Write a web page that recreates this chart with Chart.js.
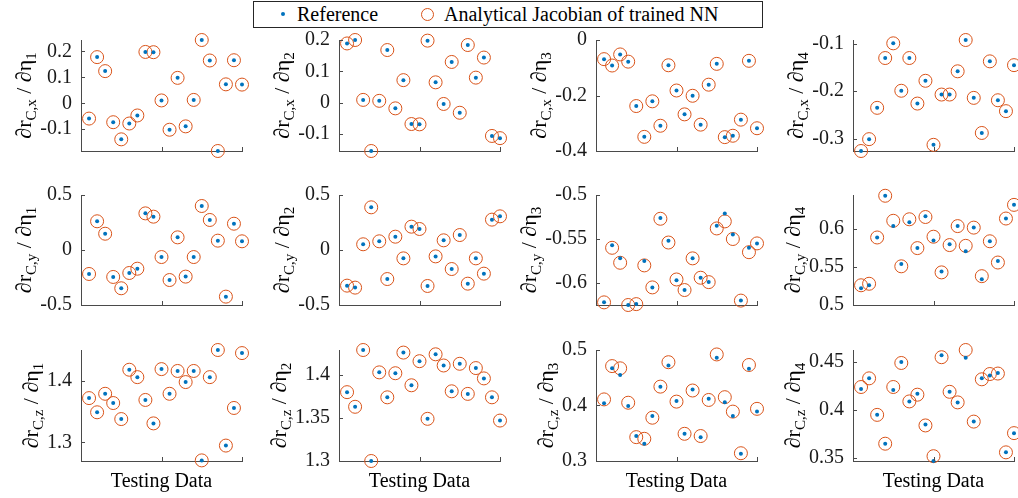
<!DOCTYPE html>
<html>
<head>
<meta charset="utf-8">
<script src="https://cdn.jsdelivr.net/npm/chart.js@4.4.1/dist/chart.umd.min.js"></script>
<style>
  html, body { margin: 0; padding: 0; background: #fff; }
  body { width: 1018px; height: 498px; overflow: hidden; position: relative; font-family: "Liberation Serif", "Times New Roman", serif; }
  canvas.panel { position: absolute; }
  #legend { position: absolute; left: 253px; top: 1px; width: 510px; height: 27px; border: 1px solid #262626; box-sizing: border-box; background: #fff; font-size: 20px; color: #000; }
  #legend .lbl { position: absolute; top: 0; line-height: 25px; white-space: nowrap; }
  #legend .dot { position: absolute; width: 4px; height: 4px; border-radius: 50%; background: #0072BD; }
  #legend .ring { position: absolute; width: 11px; height: 11px; border-radius: 50%; border: 1px solid #D95319; }
</style>
</head>
<body>
<div id="legend">
  <span class="dot" style="left:27px;top:10px"></span>
  <span class="lbl" style="left:43px">Reference</span>
  <span class="ring" style="left:167px;top:6px"></span>
  <span class="lbl" style="left:190px">Analytical Jacobian of trained NN</span>
</div>
<script>
// Test samples (x axis)
const samples = [1, 2, 3, 4, 5, 6, 7, 8, 9, 10, 11, 12, 13, 14, 15, 16, 17, 18, 19, 20];
const xTicks = [0, 10, 20];

// dr_C,x / d eta_i
const rx1Ref = [-0.059, 0.178, 0.124, -0.073, -0.139, -0.078, -0.047, 0.198, 0.197, 0.011, -0.102, 0.098, -0.089, 0.013, 0.244, 0.165, -0.184, 0.073, 0.166, 0.072];
const rx1Nn  = [-0.059, 0.178, 0.124, -0.073, -0.139, -0.078, -0.047, 0.198, 0.197, 0.011, -0.102, 0.098, -0.089, 0.013, 0.244, 0.165, -0.184, 0.073, 0.166, 0.072];
const rx2Ref = [0.189, 0.200, 0.009, -0.154, 0.006, 0.168, -0.018, 0.072, -0.068, -0.069, 0.198, 0.065, -0.004, 0.130, -0.032, 0.184, 0.080, 0.144, -0.106, -0.113];
const rx2Nn  = [0.189, 0.200, 0.009, -0.154, 0.006, 0.168, -0.018, 0.072, -0.068, -0.069, 0.198, 0.065, -0.004, 0.130, -0.032, 0.184, 0.080, 0.144, -0.106, -0.113];
const rx3Ref = [-0.069, -0.092, -0.052, -0.078, -0.238, -0.349, -0.221, -0.309, -0.091, -0.182, -0.268, -0.201, -0.305, -0.161, -0.086, -0.350, -0.345, -0.287, -0.075, -0.318];
const rx3Nn  = [-0.069, -0.092, -0.052, -0.078, -0.238, -0.349, -0.221, -0.309, -0.091, -0.182, -0.268, -0.201, -0.305, -0.161, -0.086, -0.350, -0.345, -0.287, -0.075, -0.318];
const rx4Ref = [-0.326, -0.301, -0.235, -0.130, -0.099, -0.199, -0.130, -0.226, -0.178, -0.313, -0.207, -0.207, -0.158, -0.092, -0.214, -0.288, -0.137, -0.219, -0.242, -0.145];
const rx4Nn  = [-0.326, -0.301, -0.235, -0.130, -0.099, -0.199, -0.130, -0.226, -0.178, -0.313, -0.207, -0.207, -0.158, -0.092, -0.214, -0.288, -0.137, -0.219, -0.242, -0.145];

// dr_C,y / d eta_i
const ry1Ref = [-0.218, 0.261, 0.148, -0.245, -0.348, -0.209, -0.170, 0.333, 0.303, -0.064, -0.273, 0.115, -0.242, -0.064, 0.400, 0.273, 0.085, -0.424, 0.239, 0.079];
const ry1Nn  = [-0.218, 0.261, 0.148, -0.245, -0.348, -0.209, -0.170, 0.333, 0.303, -0.064, -0.273, 0.115, -0.242, -0.064, 0.400, 0.273, 0.085, -0.424, 0.239, 0.079];
const ry2Ref = [-0.324, -0.342, 0.052, 0.388, 0.079, -0.264, 0.121, -0.076, 0.212, 0.191, -0.327, -0.058, 0.088, -0.173, 0.136, -0.306, -0.076, -0.215, 0.276, 0.306];
const ry2Nn  = [-0.324, -0.342, 0.052, 0.388, 0.079, -0.264, 0.121, -0.076, 0.212, 0.191, -0.327, -0.058, 0.088, -0.173, 0.136, -0.306, -0.076, -0.215, 0.276, 0.306];
const ry3Ref = [-0.622, -0.557, -0.572, -0.625, -0.624, -0.575, -0.605, -0.526, -0.552, -0.597, -0.608, -0.572, -0.594, -0.599, -0.535, -0.521, -0.545, -0.620, -0.560, -0.555];
const ry3Nn  = [-0.622, -0.560, -0.577, -0.625, -0.624, -0.580, -0.605, -0.527, -0.554, -0.596, -0.608, -0.572, -0.594, -0.599, -0.538, -0.530, -0.550, -0.620, -0.565, -0.555];
const ry4Ref = [0.522, 0.526, 0.589, 0.644, 0.604, 0.554, 0.609, 0.575, 0.617, 0.585, 0.544, 0.580, 0.604, 0.571, 0.602, 0.534, 0.584, 0.558, 0.614, 0.632];
const ry4Nn  = [0.526, 0.528, 0.589, 0.644, 0.611, 0.551, 0.613, 0.575, 0.616, 0.590, 0.543, 0.579, 0.604, 0.578, 0.602, 0.538, 0.584, 0.556, 0.614, 0.632];

// dr_C,z / d eta_i
const rz1Ref = [1.372, 1.349, 1.379, 1.364, 1.338, 1.418, 1.406, 1.369, 1.331, 1.419, 1.379, 1.416, 1.398, 1.416, 1.271, 1.406, 1.450, 1.295, 1.356, 1.445];
const rz1Nn  = [1.372, 1.349, 1.379, 1.364, 1.338, 1.418, 1.406, 1.369, 1.331, 1.419, 1.379, 1.416, 1.398, 1.416, 1.271, 1.406, 1.450, 1.295, 1.356, 1.445];
const rz2Ref = [1.380, 1.363, 1.429, 1.300, 1.403, 1.374, 1.402, 1.426, 1.388, 1.416, 1.349, 1.424, 1.411, 1.381, 1.413, 1.378, 1.408, 1.396, 1.374, 1.347];
const rz2Nn  = [1.380, 1.363, 1.429, 1.300, 1.403, 1.374, 1.402, 1.426, 1.388, 1.416, 1.349, 1.424, 1.411, 1.381, 1.413, 1.378, 1.408, 1.396, 1.374, 1.347];
const rz3Ref = [0.404, 0.467, 0.455, 0.399, 0.345, 0.331, 0.381, 0.434, 0.472, 0.408, 0.349, 0.429, 0.343, 0.412, 0.486, 0.406, 0.381, 0.313, 0.466, 0.389];
const rz3Nn  = [0.411, 0.471, 0.467, 0.405, 0.343, 0.340, 0.378, 0.434, 0.478, 0.407, 0.349, 0.427, 0.345, 0.410, 0.492, 0.415, 0.389, 0.314, 0.473, 0.394];
const rz4Ref = [0.422, 0.433, 0.395, 0.365, 0.421, 0.450, 0.409, 0.417, 0.385, 0.347, 0.457, 0.419, 0.408, 0.4545, 0.388, 0.433, 0.436, 0.4385, 0.356, 0.376];
const rz4Nn  = [0.424, 0.433, 0.395, 0.365, 0.424, 0.449, 0.409, 0.416, 0.384, 0.352, 0.455, 0.419, 0.408, 0.4625, 0.388, 0.432, 0.4375, 0.438, 0.356, 0.376];

// y-axis limits and tick labels, row by row
const yLimits = [
  [-0.184, 0.244], [-0.154, 0.200], [-0.400, 0.000], [-0.326, -0.092],
  [-0.500, 0.500], [-0.500, 0.500], [-0.625, -0.500], [0.500, 0.645],
  [1.270, 1.450],  [1.300, 1.429],  [0.300, 0.500],   [0.347, 0.4625]
];
const yTickValues = [
  [-0.1, 0, 0.1, 0.2], [-0.1, 0, 0.1, 0.2], [-0.4, -0.2, 0], [-0.3, -0.2, -0.1],
  [-0.5, 0, 0.5], [-0.5, 0, 0.5], [-0.6, -0.55, -0.5], [0.5, 0.55, 0.6],
  [1.3, 1.4], [1.3, 1.35, 1.4], [0.3, 0.4, 0.5], [0.35, 0.4, 0.45]
];
const components = ['C,x', 'C,y', 'C,z'];
const etaIndex = ['1', '2', '3', '4'];
const xTitle = 'Testing Data';
const legendNames = ['Reference', 'Analytical Jacobian of trained NN'];

const refSeries = [rx1Ref, rx2Ref, rx3Ref, rx4Ref, ry1Ref, ry2Ref, ry3Ref, ry4Ref, rz1Ref, rz2Ref, rz3Ref, rz4Ref];
const nnSeries  = [rx1Nn, rx2Nn, rx3Nn, rx4Nn, ry1Nn, ry2Nn, ry3Nn, ry4Nn, rz1Nn, rz2Nn, rz3Nn, rz4Nn];

// Layout of the subplot grid (plot-area edges in page pixels)
const colLeft = [81, 339, 596, 853];
const plotWidth = 161;
const rowTop = [40, 195, 350];
const rowBottom = [151, 305, 461];
const axisBand = 81;     // room left of each plot area for tick labels and title
const padTop = 24;

const BLUE = '#0072BD';
const ORANGE = '#D95319';
const AXIS = '#4a4a4a';
const FONT = '"Liberation Serif", "Times New Roman", serif';

function fmt(v) { return String(+v.toFixed(3)); }

// inward tick marks, y-label with subscripts and x-label
const axisDecor = {
  id: 'axisDecor',
  afterDraw(chart, args, o) {
    const { ctx, chartArea: a, scales } = chart;
    const x = scales.x, y = scales.y;
    ctx.save();
    ctx.strokeStyle = AXIS;
    ctx.lineWidth = 1;
    ctx.beginPath();
    y.ticks.forEach(t => {
      const py = Math.round(y.getPixelForValue(t.value)) + 0.5;
      ctx.moveTo(a.left, py); ctx.lineTo(a.left + 4, py);
    });
    xTicks.forEach(v => {
      const px = Math.round(x.getPixelForValue(v)) + 0.5;
      ctx.moveTo(px, a.bottom); ctx.lineTo(px, a.bottom - 4);
    });
    ctx.stroke();

    // widest tick label decides where the y title sits
    ctx.font = '20px ' + FONT;
    let maxW = 0;
    y.ticks.forEach(t => { maxW = Math.max(maxW, ctx.measureText(fmt(t.value)).width); });
    const cx = a.left - 10 - maxW - 14;
    const cy = (a.top + a.bottom) / 2;
    const parts = [
      { t: '\u2202r', sub: false },
      { t: o.comp, sub: true },
      { t: ' / \u2202\u03B7', sub: false },
      { t: o.eta, sub: true }
    ];
    let total = 0;
    parts.forEach(p => {
      ctx.font = (p.sub ? '15px ' : '22px ') + FONT;
      p.w = ctx.measureText(p.t).width;
      total += p.w;
    });
    ctx.translate(cx, cy);
    ctx.rotate(-Math.PI / 2);
    ctx.fillStyle = '#000';
    ctx.textBaseline = 'alphabetic';
    ctx.textAlign = 'left';
    let tx = -total / 2;
    parts.forEach(p => {
      ctx.font = (p.sub ? '15px ' : '22px ') + FONT;
      ctx.fillText(p.t, tx, p.sub ? 11 : 6);
      tx += p.w;
    });
    ctx.restore();

    if (o.showX) {
      ctx.save();
      ctx.font = '20px ' + FONT;
      ctx.fillStyle = '#000';
      ctx.textAlign = 'center';
      ctx.textBaseline = 'middle';
      ctx.fillText(xTitle, (a.left + a.right) / 2, a.bottom + 21);
      ctx.restore();
    }
  }
};

for (let r = 0; r < 3; r++) {
  for (let c = 0; c < 4; c++) {
    const k = r * 4 + c;
    const padBottom = r === 2 ? 36 : 24;
    const w = axisBand + plotWidth + 8;
    const h = padTop + (rowBottom[r] - rowTop[r]) + padBottom;
    const cv = document.createElement('canvas');
    cv.className = 'panel';
    cv.width = w; cv.height = h;
    cv.style.left = (colLeft[c] - axisBand) + 'px';
    cv.style.top = (rowTop[r] - padTop) + 'px';
    cv.style.width = w + 'px'; cv.style.height = h + 'px';
    document.body.appendChild(cv);

    const ticks = yTickValues[k];
    new Chart(cv, {
      type: 'scatter',
      data: {
        datasets: [
          {
            label: legendNames[0],
            data: samples.map((s, i) => ({ x: s, y: refSeries[k][i] })),
            pointStyle: 'circle', pointRadius: 2, pointHoverRadius: 2,
            backgroundColor: BLUE, borderColor: BLUE, borderWidth: 0,
            clip: false
          },
          {
            label: legendNames[1],
            data: samples.map((s, i) => ({ x: s, y: nnSeries[k][i] })),
            pointStyle: 'circle', pointRadius: 6.5, pointHoverRadius: 6.5,
            backgroundColor: 'rgba(0,0,0,0)', borderColor: ORANGE, borderWidth: 1,
            clip: false
          }
        ]
      },
      options: {
        responsive: false,
        animation: false,
        events: [],
        layout: { padding: { left: 0, right: 8, top: padTop, bottom: padBottom } },
        plugins: {
          legend: { display: false },
          tooltip: { enabled: false },
          axisDecor: { comp: components[r], eta: etaIndex[c], showX: r === 2 }
        },
        scales: {
          x: {
            type: 'linear', min: 0, max: 20,
            grid: { display: true, drawOnChartArea: false, drawTicks: false },
            border: { display: true, color: AXIS, width: 1 },
            ticks: { display: false },
            afterFit: s => { s.height = 0; }
          },
          y: {
            type: 'linear', min: yLimits[k][0], max: yLimits[k][1],
            grid: { display: true, drawOnChartArea: false, drawTicks: false },
            border: { display: true, color: AXIS, width: 1 },
            afterBuildTicks: s => { s.ticks = ticks.map(v => ({ value: v })); },
            ticks: {
              padding: 9,
              color: '#1a1a1a',
              font: { family: FONT, size: 20 },
              callback: v => fmt(v)
            },
            afterFit: s => { s.width = axisBand; }
          }
        }
      },
      plugins: [axisDecor]
    });
  }
}
</script>
</body>
</html>
